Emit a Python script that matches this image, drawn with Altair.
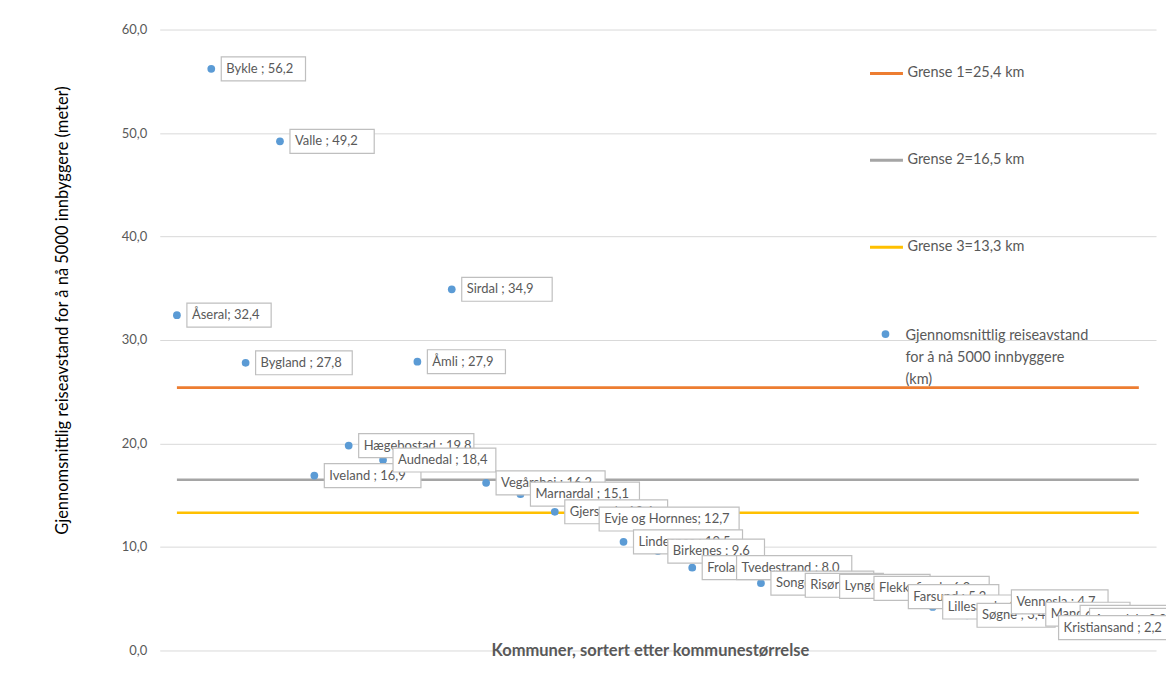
import altair as alt
import pandas as pd

# ---------------- data ----------------
kommuner = ["Åseral", "Bykle", "Bygland", "Valle", "Iveland", "Hægebostad", "Audnedal",
            "Åmli", "Sirdal", "Vegårshei", "Marnardal", "Gjerstad", "Evje og Hornnes",
            "Lindesnes", "Birkenes", "Froland", "Tvedestrand", "Songdalen", "Risør",
            "Lyngdal", "Flekkefjord", "Farsund", "Lillesand", "Søgne", "Vennesla",
            "Mandal", "Grimstad", "Arendal", "Kristiansand"]
verdier = [32.4, 56.2, 27.8, 49.2, 16.9, 19.8, 18.4, 27.9, 34.9, 16.2, 15.1, 13.4, 12.7,
           10.5, 9.6, 8.0, 8.0, 6.5, 6.3, 6.2, 6.0, 5.2, 4.2, 3.4, 4.7, 3.5, 3.2, 2.9, 2.2]
etiketter = ["Åseral; 32,4", "Bykle ; 56,2", "Bygland ; 27,8", "Valle ; 49,2",
             "Iveland ; 16,9", "Hægebostad ; 19,8", "Audnedal ; 18,4", "Åmli ; 27,9",
             "Sirdal ; 34,9", "Vegårshei ; 16,2", "Marnardal ; 15,1", "Gjerstad ; 13,4",
             "Evje og Hornnes; 12,7", "Lindesnes ; 10,5", "Birkenes ; 9.6", "Froland ; 8,0",
             "Tvedestrand ; 8.0", "Songdalen ; 6,5", "Risør ; 6,3", "Lyngdal ; 6,2",
             "Flekkefjord ; 6,0", "Farsund ; 5,2", "Lillesand ; 4,2", "Søgne ; 3,4",
             "Vennesla ; 4,7", "Mandal ; 3,5", "Grimstad ; 3,2", "Arendal ; 2,9",
             "Kristiansand ; 2,2"]
grense_navn = ["Grense 1=25,4 km", "Grense 2=16,5 km", "Grense 3=13,3 km"]
grense_verdi = [25.4, 16.5, 13.3]
serie_navn = "Gjennomsnittlig reiseavstand for å nå 5000 innbyggere (km)"
serie_linjer = ["Gjennomsnittlig reiseavstand", "for å nå 5000 innbyggere", "(km)"]
y_tittel = "Gjennomsnittlig reiseavstand for å nå 5000 innbyggere (meter)"
x_tittel = "Kommuner, sortert etter kommunestørrelse"

# ---------------- style / layout ----------------
grense_farge = ["#ED7D31", "#A5A5A5", "#FFC000"]
PUNKT = "#5B9BD5"
TEKST = "#595959"
FONT = "Lato"
W, H = 998, 622
N = len(kommuner)
YMAX = 60
PXU = W / N          # px per category unit
PYU = H / YMAX       # px per y unit
CHAR_W = 6.2
BOX_GAP = 10
BOX_H = 24
RIGHT_LIMIT = (1182 - 160) / PXU - 0.5

df = pd.DataFrame({"idx": range(N), "kommune": kommuner, "verdi": verdier,
                   "etikett": etiketter})
df["serie"] = serie_navn
wu = (df["etikett"].str.len() * CHAR_W + 10) / PXU
x0 = df["idx"] + BOX_GAP / PXU
df["x0"] = [min(a, RIGHT_LIMIT - w) for a, w in zip(x0, wu)]
df["x1"] = df["x0"] + wu
df["y0"] = df["verdi"] - (BOX_H / 2) / PYU
df["y1"] = df["verdi"] + (BOX_H / 2) / PYU

grense_df = pd.DataFrame([{"idx": i, "grense": g, "gverdi": v}
                          for g, v in zip(grense_navn, grense_verdi) for i in range(N)])

xscale = alt.Scale(domain=[-0.5, N - 0.5], nice=False, zero=False)
yscale = alt.Scale(domain=[0, YMAX], nice=False)

x_axis = alt.Axis(title=x_tittel, labels=False, ticks=False, domain=False, grid=False,
                  titleY=0, titleX=491, titleAlign="center", titleBaseline="middle",
                  titleFontWeight="bold", titleFontSize=16.5, titleColor=TEKST,
                  titleFont=FONT)
y_axis = alt.Axis(title=y_tittel, values=list(range(0, YMAX + 1, 10)),
                  labelExpr="replace(format(datum.value, '.1f'), '.', ',')",
                  grid=True, gridColor="#D9D9D9", domain=False, ticks=False,
                  labelPadding=13, labelFontSize=13, labelColor=TEKST,
                  labelFont=FONT, titleFont=FONT, titleFontSize=16.5,
                  titleFontWeight="normal", titleColor="#000000",
                  titleX=-97, titleY=281, titleAlign="center", titleBaseline="middle",
                  titleAngle=270)

lines = alt.Chart(grense_df).mark_line(strokeWidth=2.6).encode(
    x=alt.X("idx:Q", scale=xscale, axis=x_axis),
    y=alt.Y("gverdi:Q", scale=yscale, axis=y_axis),
    stroke=alt.Stroke("grense:N", scale=alt.Scale(domain=grense_navn, range=grense_farge),
                      legend=alt.Legend(title=None, orient="none", legendX=710, legendY=26,
                                        symbolType="stroke", symbolSize=1089,
                                        symbolStrokeWidth=3, labelFontSize=14.5,
                                        labelColor=TEKST, labelFont=FONT, rowPadding=62,
                                        labelOffset=3, padding=0, labelLimit=300)),
    detail="grense:N",
)

points = alt.Chart(df).mark_circle(size=60, opacity=1).encode(
    x=alt.X("idx:Q", scale=xscale, axis=x_axis),
    y=alt.Y("verdi:Q", scale=yscale, axis=y_axis),
    fill=alt.Fill("serie:N", scale=alt.Scale(domain=[serie_navn], range=[PUNKT]),
                  legend=alt.Legend(title=serie_linjer, titleOrient="right",
                                    titleLineHeight=22, titleFontSize=14.5,
                                    titleFontWeight="normal", titleColor=TEKST,
                                    titleFont=FONT, titleBaseline="top", titleLimit=400,
                                    titlePadding=15, titleAnchor="start",
                                    orient="none", legendX=722, legendY=300,
                                    labelExpr="''", labelOffset=0,
                                    symbolType="circle", symbolSize=60, padding=0)),
)

layers = [lines, points]
for i in range(N):
    box = alt.Chart(df).transform_filter(alt.datum.idx == i).mark_rect(
        fill="white", stroke="#BFBFBF", strokeWidth=1.2).encode(
        x=alt.X("x0:Q", scale=xscale, axis=x_axis), x2="x1:Q",
        y=alt.Y("y0:Q", scale=yscale, axis=y_axis), y2="y1:Q")
    txt = alt.Chart(df).transform_filter(alt.datum.idx == i).mark_text(
        align="left", baseline="middle", dx=5, font=FONT, fontSize=13, color=TEKST).encode(
        x=alt.X("x0:Q", scale=xscale, axis=x_axis),
        y=alt.Y("verdi:Q", scale=yscale, axis=y_axis),
        text="etikett:N")
    layers += [box, txt]

chart = alt.layer(*layers).properties(
    width=W, height=H,
    autosize=alt.AutoSizeParams(type="none"),
    padding={"left": 152, "top": 21, "right": 10, "bottom": 20},
    background="white",
).configure_view(stroke=None)

chart.save("out.html", embed_options={"renderer": "svg", "actions": False})
